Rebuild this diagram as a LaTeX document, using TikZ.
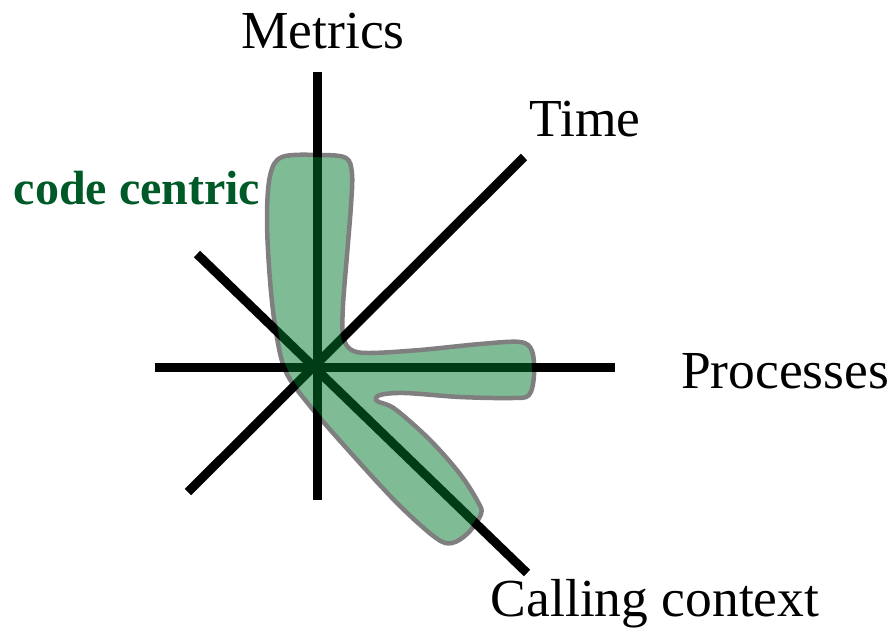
\documentclass[tikz,border=0pt]{standalone}
\usepackage{fontspec}
\setmainfont{Liberation Serif}
\definecolor{blobgreen}{RGB}{0,122,44}
\definecolor{textgreen}{RGB}{0,90,40}
\begin{document}
\begin{tikzpicture}[x=1pt, y=-1pt,
    axis/.style={line width=9pt, black},
    lbl/.style={inner sep=0pt, font=\fontsize{53.5}{60}\selectfont}]
            \useasboundingbox (0,0) rectangle (890,630);
            % axis ends
            \foreach \n/\p in {mt/{317,72},mb/{317,500},pl/{155,367},pr/{615,367},
                               tl/{188,492},tr/{524,157},cl/{197,254},cr/{527,573}} {
                \coordinate (\n) at (\p);
            }
            \draw[axis] (mt)--(mb);
            \draw[axis] (pl)--(pr);
            \draw[axis] (tl)--(tr);
            \draw[axis] (cl)--(cr);
            % code centric region
            \begin{scope}[transparency group, opacity=0.5]
            \filldraw[fill=blobgreen, draw=black, line width=4.5pt]
                plot[smooth cycle, tension=0.55] coordinates {
                (282,157) (320,155) (346,158) (352,174) (351,205) (347,255) (343,305)
                (343,335) (350,349) (368,353) (420,350) (480,344) (520,342) (532,351)
                (534,375) (529,395) (512,398) (460,397) (405,393) (380,395) (377,401)
                (395,409) (430,440) (460,474) (478,502) (481,514) (468,533) (452,543)
                (436,538) (398,504) (350,452) (310,406) (286,372) (276,332) (270,280)
                (267,220) (270,176)};
            \end{scope}
            \node[lbl] (metrics) at (323,31) {Metrics};
            \node[lbl] (time) at (585,119) {Time};
            \node[lbl] (procs) at (785,371) {Processes};
            \node[lbl] (calling) at (655,604) {Calling context};
            \node[inner sep=0pt, text=textgreen, font=\fontsize{48}{56}\selectfont\bfseries] (code) at (137,188) {code centric};
\end{tikzpicture}
\end{document}
